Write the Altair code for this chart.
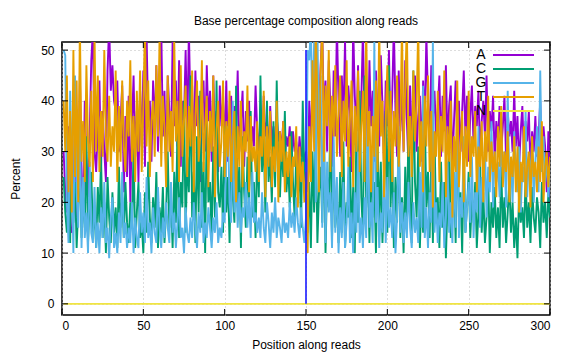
import altair as alt
import pandas as pd

# ---- data ----
bases = ["A", "C", "G", "T", "N"]
colors = ["#9400d3", "#009e73", "#56b4e9", "#e69f00", "#f0e442"]
chart_title = ["Base percentage composition along reads"]

A = [30, 22, 18, 35, 15, 14, 20, 38, 17, 22, 45, 25, 19, 40, 28, 21, 33, 48, 54, 30,
     26, 35, 44, 27, 38, 30, 24, 46, 55, 42, 47, 40, 38, 44, 30, 36, 43, 22, 37, 25,
     41, 20, 35, 45, 29, 38, 24, 42, 31, 46, 27, 53, 36, 40, 28, 44, 34, 47, 30, 39,
     55, 33, 42, 26, 45, 38, 29, 52, 35, 44, 31, 48, 27, 40, 36, 50, 33, 54, 38, 43,
     29, 46, 35, 41, 24, 39, 44, 30, 47, 36, 42, 28, 45, 33, 38, 26, 43, 35, 40, 31,
     44, 28, 37, 41, 25, 39, 33, 46, 30, 36, 42, 27, 38, 32, 40, 29, 35, 31, 43, 34,
     30, 38, 27, 41, 33, 36, 29, 39, 31, 35, 28, 37, 32, 34, 30, 36, 29, 33, 31, 35,
     28, 34, 30, 32, 27, 33, 29, 31, 28, 30,
     22, 40, 30, 45, 35, 50, 42, 38, 47, 54, 36, 44, 30, 48, 39, 27, 46, 33, 55, 40,
     29, 45, 36, 52, 31, 43, 38, 26, 55, 41, 34, 47, 29, 40, 54, 36, 44, 30, 48, 35,
     42, 28, 46, 37, 31, 49, 39, 27, 44, 35, 50, 32, 41, 55, 38, 29, 46, 34, 42, 30,
     48, 36, 27, 43, 33, 39, 45, 30, 37, 41, 28, 44, 35, 53, 40, 31, 47, 36, 42, 33,
     38, 45, 29, 41, 34, 47, 31, 39, 43, 27, 36, 44, 32, 40, 30, 38, 46, 33, 41, 28,
     37, 43, 31, 39, 35, 42, 29, 36, 40, 33, 45, 30, 38, 34, 41, 28, 36, 32, 39, 30,
     35, 41, 28, 38, 33, 36, 30, 42, 31, 37, 27, 34, 39, 29, 36, 32, 38, 26, 34, 30,
     37, 29, 33, 40, 28, 35, 31, 22, 34, 18]

C = [25, 18, 14, 22, 12, 30, 16, 24, 11, 19, 28, 13, 21, 15, 33, 12, 20, 26, 14, 18,
     11, 23, 16, 29, 13, 20, 10, 25, 17, 12, 22, 14, 19, 11, 27, 15, 21, 13, 24, 16,
     12, 20, 15, 31, 11, 18, 24, 13, 16, 10, 22, 14, 28, 17, 12, 21, 15, 26, 11, 19,
     14, 23, 12, 18, 30, 15, 21, 11, 26, 16, 35, 13, 24, 19, 40, 14, 29, 22, 45, 17,
     26, 12, 33, 18, 42, 15, 28, 10, 37, 20, 24, 13, 31, 17, 44, 22, 19, 27, 14, 35,
     18, 25, 12, 30, 21, 16, 43, 19, 27, 11, 33, 22, 15, 29, 20, 38, 17, 24, 13, 31,
     21, 45, 26, 33, 18, 40, 24, 29, 20, 36, 23, 44, 27, 21, 31, 25, 38, 22, 28, 19,
     34, 24, 17, 30, 21, 27, 15, 40, 25, 20,
     14, 24, 11, 30, 18, 35, 12, 22, 27, 16, 33, 10, 25, 19, 37, 13, 28, 15, 21, 12,
     26, 14, 32, 11, 20, 17, 29, 13, 23, 10, 35, 16, 42, 21, 14, 45, 19, 27, 12, 30,
     17, 24, 10, 33, 15, 28, 12, 22, 38, 14, 47, 19, 30, 11, 25, 16, 34, 13, 21, 10,
     27, 15, 35, 20, 12, 46, 24, 17, 31, 11, 22, 14, 38, 19, 26, 13, 29, 12, 33, 16,
     21, 11, 28, 15, 24, 9, 20, 32, 13, 18, 25, 12, 36, 17, 22, 10, 29, 14, 19, 26,
     13, 21, 16, 24, 11, 18, 28, 14, 22, 12, 17, 25, 10, 20, 15, 23, 13, 19, 11, 27,
     15, 21, 12, 18, 24, 14, 20, 11, 17, 9, 22, 16, 19, 13, 25, 15, 20, 12, 23, 17,
     14, 21, 18, 11, 24, 16, 20, 13, 22, 17]

G = [50, 49, 20, 12, 42, 27, 10, 45, 22, 15, 37, 11, 25, 13, 18, 10, 28, 14, 12, 23,
     11, 16, 10, 19, 13, 24, 12, 15, 9, 17, 21, 11, 14, 10, 18, 12, 26, 13, 16, 11,
     15, 12, 20, 10, 17, 13, 11, 22, 14, 18, 12, 25, 13, 16, 10, 19, 14, 12, 23, 15,
     11, 17, 13, 20, 15, 12, 24, 14, 18, 11, 16, 21, 13, 15, 10, 19, 14, 12, 17, 13,
     20, 15, 11, 18, 14, 22, 12, 16, 13, 19, 15, 11, 17, 14, 20, 12, 15, 13, 18, 16,
     30, 35, 20, 16, 40, 18, 25, 15, 22, 14, 19, 17, 24, 15, 21, 13, 26, 16, 18, 14,
     17, 13, 22, 15, 12, 20, 16, 11, 18, 14, 21, 13, 17, 15, 12, 19, 14, 16, 13, 20,
     15, 18, 14, 21, 16, 13, 19, 15, 12, 17,
     50, 48, 55, 35, 52, 20, 55, 30, 45, 15, 40, 12, 28, 18, 22, 11, 33, 14, 25, 10,
     19, 13, 24, 11, 16, 27, 12, 18, 10, 22, 14, 30, 12, 17, 11, 21, 13, 38, 15, 20,
     12, 52, 16, 23, 11, 18, 14, 28, 12, 25, 15, 19, 13, 22, 10, 17, 35, 14, 20, 12,
     18, 13, 24, 15, 11, 20, 14, 17, 12, 26, 15, 43, 13, 19, 11, 22, 16, 52, 14, 20,
     12, 18, 15, 24, 11, 17, 28, 14, 20, 12, 26, 15, 38, 13, 21, 17, 33, 14, 19, 24,
     16, 29, 13, 22, 18, 35, 15, 25, 20, 32, 17, 27, 22, 36, 19, 30, 24, 28, 21, 33,
     25, 30, 19, 42, 23, 28, 20, 34, 26, 22, 31, 18, 27, 24, 38, 21, 29, 25, 32, 20,
     28, 35, 22, 46, 26, 33, 24, 29, 21, 27]

T = [40, 30, 45, 22, 38, 18, 50, 25, 44, 20, 55, 28, 36, 24, 47, 32, 27, 42, 24, 53,
     30, 45, 26, 38, 29, 50, 33, 28, 41, 27, 35, 30, 46, 24, 39, 28, 44, 31, 26, 40,
     33, 48, 28, 37, 24, 42, 30, 46, 26, 39, 55, 31, 44, 25, 36, 40, 29, 47, 33, 53,
     27, 41, 35, 23, 45, 30, 38, 26, 52, 32, 40, 24, 47, 29, 36, 43, 25, 39, 31, 46,
     22, 37, 44, 28, 33, 48, 26, 35, 41, 23, 38, 30, 45, 21, 34, 40, 27, 32, 44, 25,
     36, 29, 42, 24, 33, 38, 20, 35, 27, 40, 23, 34, 30, 43, 22, 37, 28, 31, 26, 36,
     24, 33, 29, 42, 21, 35, 27, 38, 23, 31, 26, 40, 20, 34, 28, 36, 22, 30, 25, 33,
     21, 29, 27, 35, 19, 31, 24, 28, 20, 26,
     10, 35, 24, 48, 30, 55, 40, 22, 46, 55, 28, 43, 35, 50, 26, 41, 33, 47, 29, 38,
     45, 25, 40, 32, 48, 27, 36, 44, 23, 39, 30, 46, 26, 35, 42, 24, 55, 31, 38, 22,
     37, 29, 44, 26, 55, 33, 40, 21, 36, 47, 28, 42, 24, 38, 31, 45, 27, 34, 55, 30,
     43, 55, 29, 37, 25, 46, 32, 39, 55, 27, 36, 22, 41, 31, 45, 26, 38, 19, 34, 29,
     42, 24, 37, 30, 46, 21, 35, 28, 40, 17, 33, 26, 44, 23, 31, 38, 20, 35, 27, 42,
     25, 33, 29, 38, 22, 31, 27, 36, 20, 34, 28, 41, 24, 32, 26, 30, 21, 35, 27, 39,
     23, 30, 26, 34, 20, 29, 25, 33, 22, 31, 18, 28, 24, 35, 21, 27, 30, 19, 33, 25,
     28, 22, 31, 24, 36, 20, 27, 30, 23, 29]

N = [0] * 300

x_ticks = [0, 50, 100, 150, 200, 250, 300]
y_ticks = [0, 10, 20, 30, 40, 50]
split_pos = [150]
split_top = [50]

# ---- build tables ----
rows = []
for b, vals in zip(bases, [A, C, G, T, N]):
    for i, v in enumerate(vals):
        rows.append({"pos": i + 1, "pct": v, "base": b})
df = pd.DataFrame(rows)

W, H = 488, 273
FONT = "Liberation Sans"

xs = alt.Scale(domain=[0, 300], nice=False, zero=False)
ys = alt.Scale(domain=[-2.2, 51.6], nice=False, zero=False)
cs = alt.Scale(domain=bases, range=colors)

lines = alt.Chart(df).mark_line(strokeWidth=1.9, clip=True).encode(
    x=alt.X("pos:Q", scale=xs,
            axis=alt.Axis(values=x_ticks, title="Position along reads",
                          labelPadding=5, titlePadding=8)),
    y=alt.Y("pct:Q", scale=ys,
            axis=alt.Axis(values=y_ticks, title="Percent",
                          labelPadding=8, titlePadding=18)),
    color=alt.Color("base:N", scale=cs, legend=None),
)

split = alt.Chart(pd.DataFrame({"x": split_pos, "y0": [0], "y1": split_top})).mark_rule(
    color="#1a1aff", strokeWidth=1.6).encode(
    x=alt.X("x:Q", scale=xs), y=alt.Y("y0:Q", scale=ys), y2="y1:Q")

xt = pd.DataFrame({"t": x_ticks})
yt = pd.DataFrame({"t": y_ticks})
tick_style = dict(color="black", strokeWidth=1)
xt_bot = alt.Chart(xt).mark_rule(**tick_style).encode(
    x=alt.X("t:Q", scale=xs), y=alt.value(H), y2=alt.value(H - 6))
xt_top = alt.Chart(xt).mark_rule(**tick_style).encode(
    x=alt.X("t:Q", scale=xs), y=alt.value(0), y2=alt.value(6))
yt_left = alt.Chart(yt).mark_rule(**tick_style).encode(
    y=alt.Y("t:Q", scale=ys), x=alt.value(0), x2=alt.value(6))
yt_right = alt.Chart(yt).mark_rule(**tick_style).encode(
    y=alt.Y("t:Q", scale=ys), x=alt.value(W), x2=alt.value(W - 6))

leg = pd.DataFrame({"base": bases, "row": list(range(len(bases)))})
leg["ty"] = 13 + 14 * leg["row"]
leg["tx"] = 419
leg["lx1"] = 431
leg["lx2"] = 472
leg_text = alt.Chart(leg).mark_text(fontSize=14, font=FONT, color="black",
                                    align="center", baseline="middle").encode(
    x=alt.X("tx:Q", scale=None), y=alt.Y("ty:Q", scale=None), text="base:N")
leg_line = alt.Chart(leg).mark_rule(strokeWidth=1.8).encode(
    x=alt.X("lx1:Q", scale=None), x2="lx2:Q", y=alt.Y("ty:Q", scale=None),
    color=alt.Color("base:N", scale=cs, legend=None))

title = alt.Chart(pd.DataFrame({"t": chart_title})).mark_text(
    fontSize=12, font=FONT, color="black", align="center", baseline="alphabetic").encode(
    x=alt.value(W / 2), y=alt.value(-17), text="t:N")

chart = alt.layer(lines, split, xt_bot, xt_top, yt_left, yt_right, leg_line, leg_text, title).properties(
    width=W, height=H,
    autosize=alt.AutoSizeParams(type="none"),
    padding={"left": 54, "top": 34, "right": 18, "bottom": 37},
).configure_view(stroke="black", strokeWidth=1.5).configure_axis(
    domain=False, ticks=False, grid=True, gridDash=[1, 3], gridColor="#bbbbbb",
    labelFont=FONT, titleFont=FONT, labelFontSize=12, titleFontSize=12,
    labelColor="black", titleColor="black", titleFontWeight="normal",
)

chart.save("out.html", embed_options={"renderer": "svg", "actions": False})
